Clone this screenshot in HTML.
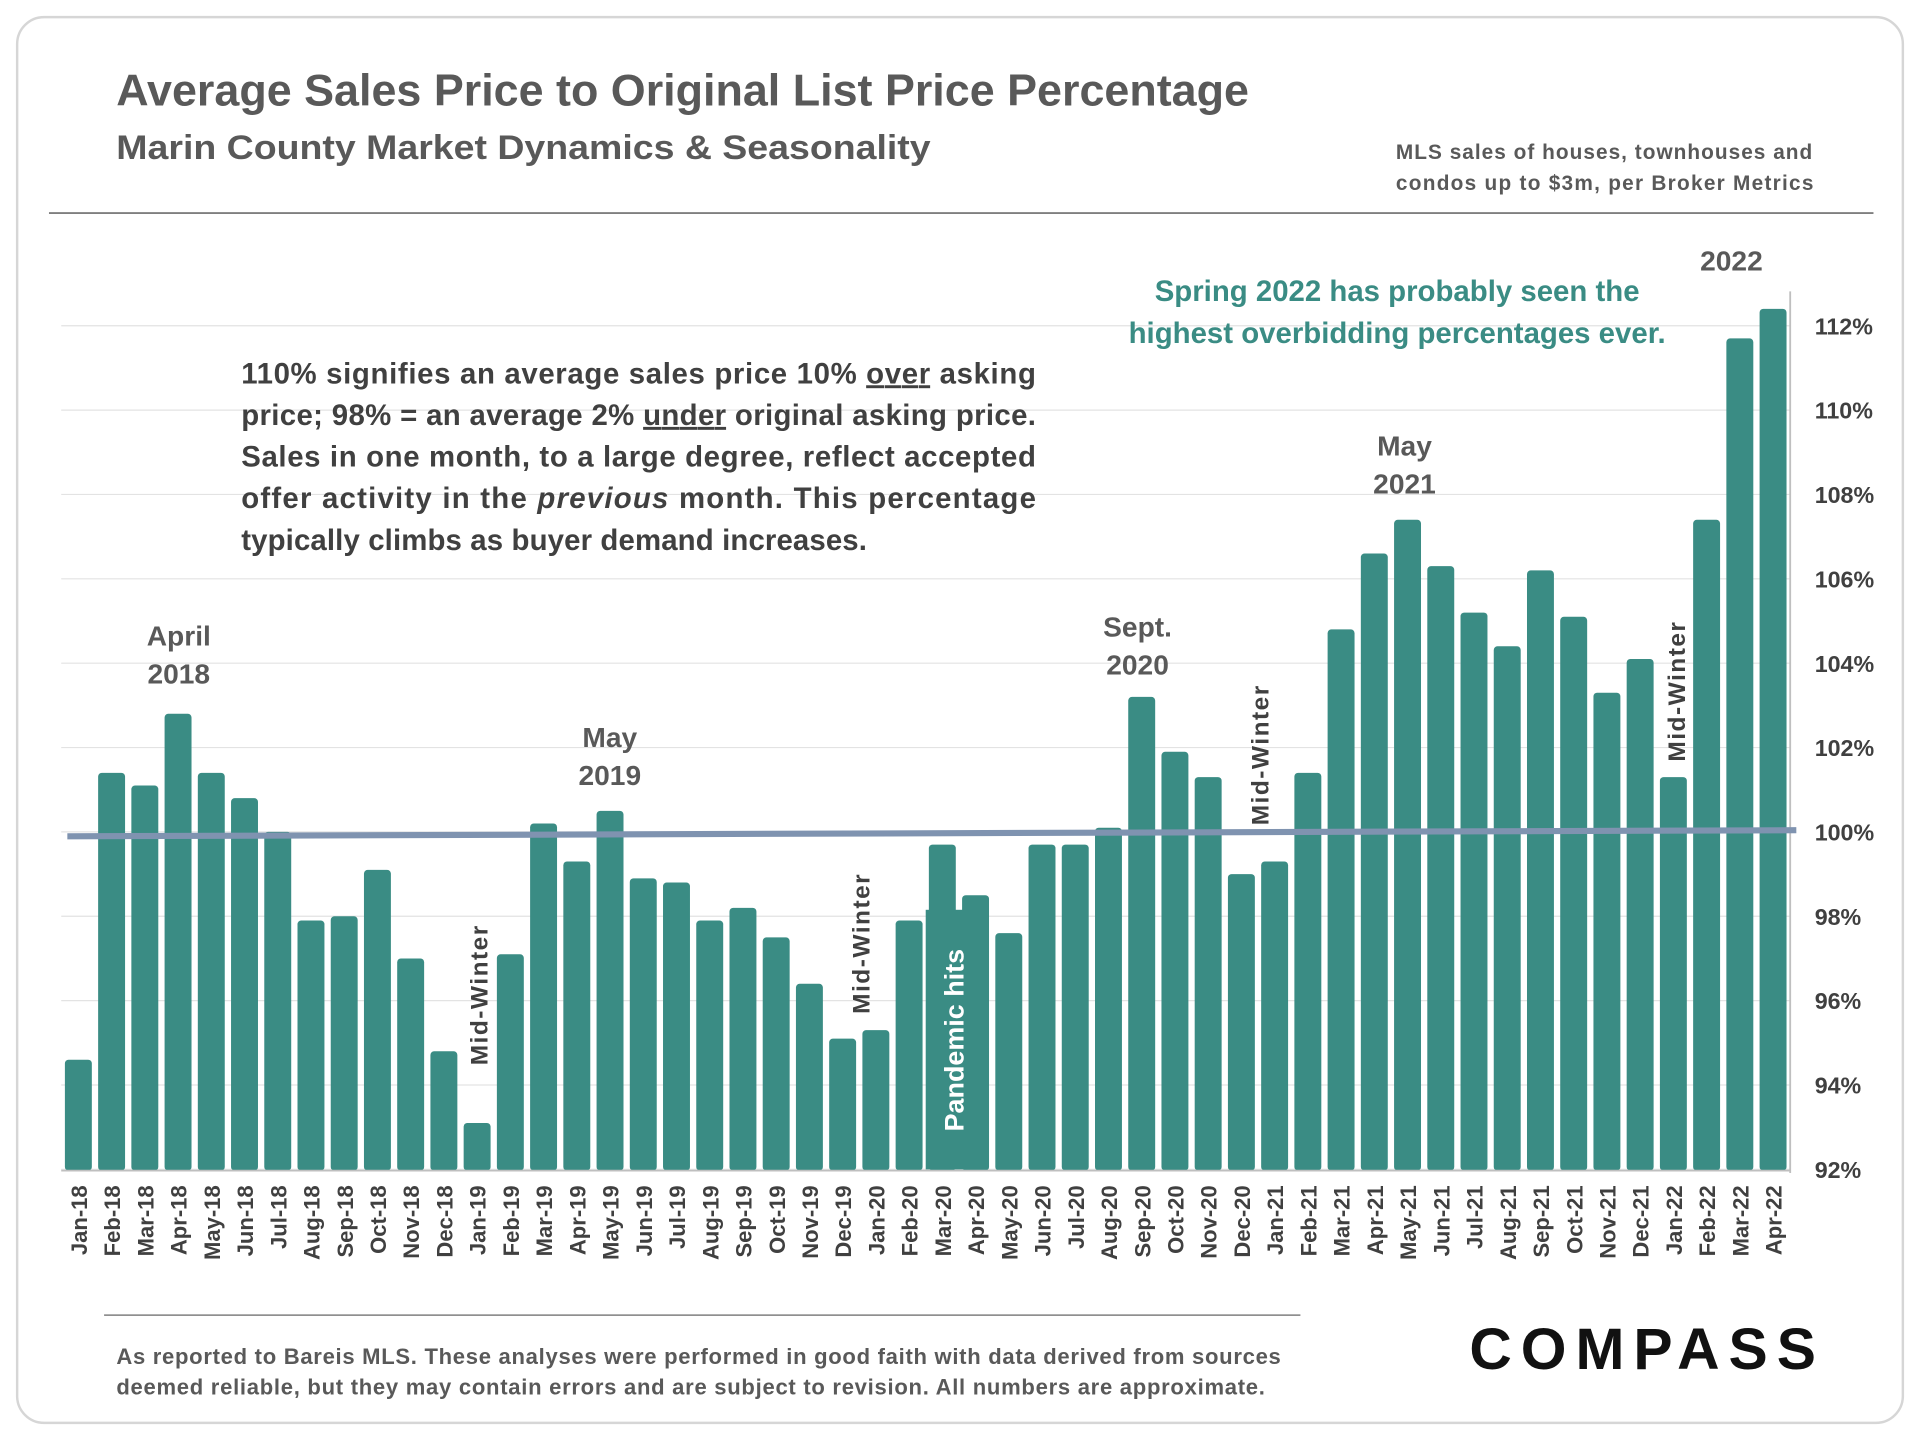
<!DOCTYPE html>
<html><head><meta charset="utf-8"><style>
html,body{margin:0;padding:0;background:#fff;}
svg{display:block;font-family:"Liberation Sans",sans-serif;}
</style></head><body>
<svg id="chart" width="1920" height="1440" viewBox="0 0 1568 1176" xmlns="http://www.w3.org/2000/svg">
<rect x="14" y="14" width="1540" height="1148" rx="22" fill="#fff" stroke="#d6d6d6" stroke-width="2"/>
<text x="95" y="86" font-size="36" font-weight="bold" fill="#595959" textLength="925" lengthAdjust="spacingAndGlyphs">Average Sales Price to Original List Price Percentage</text>
<text x="95" y="130" font-size="28" font-weight="bold" fill="#595959" textLength="665" lengthAdjust="spacingAndGlyphs">Marin County Market Dynamics &amp; Seasonality</text>
<text font-size="17" font-weight="bold" fill="#595959"><tspan x="1140" y="130" textLength="340">MLS sales of houses, townhouses and</tspan><tspan x="1140" y="155" textLength="341">condos up to $3m, per Broker Metrics</tspan></text>
<line x1="40" y1="174" x2="1530" y2="174" stroke="#7f7f7f" stroke-width="1.5"/>
<g id="grid"></g>
<g id="bars"></g>
<g id="xlabels"></g>
<g id="ylabels"></g>
<line x1="1462" y1="238" x2="1462" y2="958" stroke="#bfbfbf" stroke-width="1.5"/>
<line x1="50" y1="956" x2="1462" y2="956" stroke="#bfbfbf" stroke-width="1.5"/>
<line x1="55" y1="683" x2="1467" y2="678" stroke="#7f93b0" stroke-width="5"/>
<g font-size="24" font-weight="bold" fill="#404040">
<text x="197" y="313" textLength="649" lengthAdjust="spacing">110% signifies an average sales price 10% <tspan text-decoration="underline">over</tspan> asking</text>
<text x="197" y="347" textLength="649" lengthAdjust="spacing">price; 98% = an average 2% <tspan text-decoration="underline">under</tspan> original asking price.</text>
<text x="197" y="381" textLength="649" lengthAdjust="spacing">Sales in one month, to a large degree, reflect accepted</text>
<text x="197" y="415" textLength="649" lengthAdjust="spacing">offer activity in the <tspan font-style="italic">previous</tspan> month. This percentage</text>
<text x="197" y="449" textLength="511" lengthAdjust="spacing">typically climbs as buyer demand increases.</text>
</g>
<text font-size="24" font-weight="bold" fill="#3a8c84" text-anchor="middle"><tspan x="1141" y="246">Spring 2022 has probably seen the</tspan><tspan x="1141" y="280">highest overbidding percentages ever.</tspan></text>
<g font-size="23" font-weight="bold" fill="#595959" text-anchor="middle">
<text><tspan x="146" y="527">April</tspan><tspan x="146" y="558">2018</tspan></text>
<text><tspan x="498" y="610">May</tspan><tspan x="498" y="641">2019</tspan></text>
<text><tspan x="929" y="520">Sept.</tspan><tspan x="929" y="551">2020</tspan></text>
<text><tspan x="1147" y="372">May</tspan><tspan x="1147" y="403">2021</tspan></text>
<text x="1414" y="221">2022</text>
</g>
<g font-size="20" font-weight="bold" fill="#404040">
<text transform="translate(398,870) rotate(-90)" textLength="114">Mid-Winter</text>
<text transform="translate(710,828) rotate(-90)" textLength="114">Mid-Winter</text>
<text transform="translate(1036,674) rotate(-90)" textLength="114">Mid-Winter</text>
<text transform="translate(1376,622) rotate(-90)" textLength="114">Mid-Winter</text>
</g>
<rect x="756" y="743" width="40" height="212" fill="#3a8c84"/>
<text transform="translate(787,924) rotate(-90)" font-size="22" font-weight="bold" fill="#fff">Pandemic hits</text>
<line x1="85" y1="1074" x2="1062" y2="1074" stroke="#7f7f7f" stroke-width="1.2"/>
<text font-size="18" font-weight="bold" fill="#595959"><tspan x="95" y="1114" textLength="951">As reported to Bareis MLS. These analyses were performed in good faith with data derived from sources</tspan><tspan x="95" y="1139" textLength="938">deemed reliable, but they may contain errors and are subject to revision. All numbers are  approximate.</tspan></text>
<text x="1200" y="1118" font-size="48" font-weight="bold" fill="#111" textLength="283" lengthAdjust="spacing">COMPASS</text>
</svg>
<script>
const categories=["Jan-18","Feb-18","Mar-18","Apr-18","May-18","Jun-18","Jul-18","Aug-18","Sep-18","Oct-18","Nov-18","Dec-18","Jan-19","Feb-19","Mar-19","Apr-19","May-19","Jun-19","Jul-19","Aug-19","Sep-19","Oct-19","Nov-19","Dec-19","Jan-20","Feb-20","Mar-20","Apr-20","May-20","Jun-20","Jul-20","Aug-20","Sep-20","Oct-20","Nov-20","Dec-20","Jan-21","Feb-21","Mar-21","Apr-21","May-21","Jun-21","Jul-21","Aug-21","Sep-21","Oct-21","Nov-21","Dec-21","Jan-22","Feb-22","Mar-22","Apr-22"];
const values=[94.6,101.4,101.1,102.8,101.4,100.8,100.0,97.9,98.0,99.1,97.0,94.8,93.1,97.1,100.2,99.3,100.5,98.9,98.8,97.9,98.2,97.5,96.4,95.1,95.3,97.9,99.7,98.5,97.6,99.7,99.7,100.1,103.2,101.9,101.3,99.0,99.3,101.4,104.8,106.6,107.4,106.3,105.2,104.4,106.2,105.1,103.3,104.1,101.3,107.4,111.7,112.4];
const yTicks=[92,94,96,98,100,102,104,106,108,110,112];
const yTickLabels=["92%","94%","96%","98%","100%","102%","104%","106%","108%","110%","112%"];
const NS="http://www.w3.org/2000/svg";
const y=v=>955-(v-92)*34.45;
const x=i=>64+i*(1448-64)/(categories.length-1);
const grid=document.getElementById('grid'),bars=document.getElementById('bars'),xl=document.getElementById('xlabels'),yl=document.getElementById('ylabels');
yTicks.forEach((t,k)=>{
  const l=document.createElementNS(NS,'line');
  
  
  l.setAttribute('x1',50);l.setAttribute('x2',1462);l.setAttribute('y1',y(t));l.setAttribute('y2',y(t));
  l.setAttribute('stroke','#e3e3e3');l.setAttribute('stroke-width','1');
  grid.appendChild(l);
  const tx=document.createElementNS(NS,'text');
  
  
  tx.setAttribute('x',1482);tx.setAttribute('y',y(t)+7);tx.setAttribute('font-size','19');tx.setAttribute('font-weight','bold');tx.setAttribute('fill','#404040');
  tx.textContent=yTickLabels[k];yl.appendChild(tx);
});
values.forEach((v,i)=>{
  const r=document.createElementNS(NS,'rect');
  
  
  r.setAttribute('x',x(i)-11);r.setAttribute('width',22);r.setAttribute('y',y(v));r.setAttribute('height',955-y(v)+1);
  r.setAttribute('rx','3');r.setAttribute('fill','#3a8c84');
  bars.appendChild(r);
  const tx=document.createElementNS(NS,'text');
  
  
  tx.setAttribute('transform','translate('+(x(i)+7)+',968) rotate(-90)');
  tx.setAttribute('text-anchor','end');tx.setAttribute('font-size','18');tx.setAttribute('font-weight','bold');tx.setAttribute('fill','#404040');
  tx.textContent=categories[i];xl.appendChild(tx);
});
</script>
</body></html>
